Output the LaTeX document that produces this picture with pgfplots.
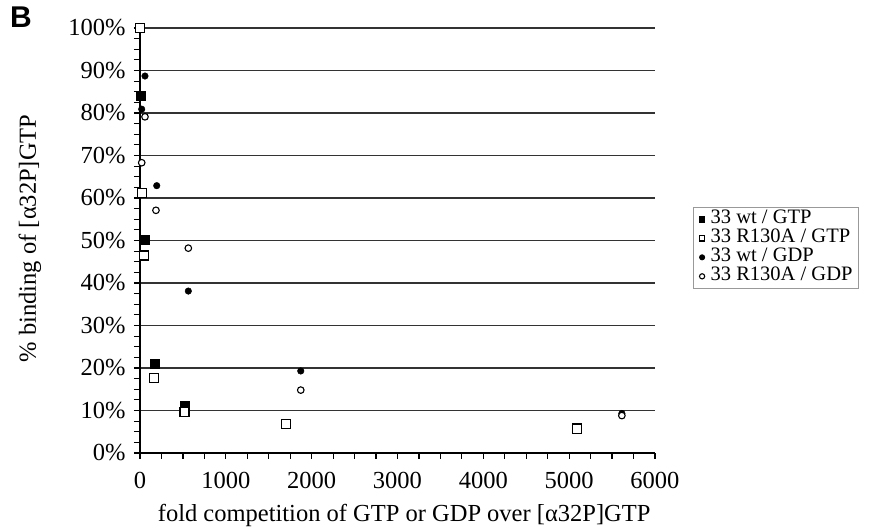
\documentclass[border=0pt]{standalone}
\usepackage{fontspec}
\setmainfont{Liberation Serif}
\newfontfamily\labelsans{Liberation Sans}
\usepackage{pgfplots}
\pgfplotsset{compat=1.18}
\begin{document}
\fontsize{24.5}{28}\selectfont
\begin{tikzpicture}
\path[use as bounding box] (-140pt,-79pt) rectangle (731pt,453pt);
\begin{axis}[
  scale only axis,
  width=515pt, height=425pt,
  xmin=0, xmax=6000, ymin=0, ymax=100,
  axis lines=left,
  axis line style={-, line width=1.6pt},
  xtick={0,1000,...,6000}, ytick={0,10,...,100},
  minor x tick num=3, minor y tick num=3,
  tick align=outside,
  major tick length=6pt, minor tick length=6pt,
  tick style={line width=1.2pt, black},
  ymajorgrids,
  major grid style={line width=1.6pt, black!80},
  /pgf/number format/assume math mode=true,
  /pgf/number format/1000 sep={},
  yticklabel={\pgfmathprintnumber{\tick}\%},
  ticklabel style={font=\fontsize{24.5}{28}\selectfont},
  xticklabel style={yshift=-5pt},
  yticklabel style={xshift=0pt},
  xlabel={fold competition of GTP or GDP over [α32P]GTP},
  ylabel={\% binding of [α32P]GTP},
  label style={font=\fontsize{24.5}{28}\selectfont},
  xlabel style={at={(axis description cs:0.513,-0.146)}, anchor=center},
  ylabel style={at={(axis description cs:-0.2136,0.505)}, anchor=center, rotate=0},
  legend style={at={(axis description cs:1.074,0.579)}, anchor=north west,
    draw=black!40, line width=0.8pt, font=\fontsize{20.5}{22}\selectfont,
    nodes={inner sep=0pt, text height=13pt, text depth=4pt},
    inner xsep=6pt, inner ysep=3.5pt, row sep=2pt, column sep=6pt},
  legend cell align=left,
  legend image post style={mark size=2.6pt},
  legend image code/.code={\draw[#1] plot coordinates {(0.12cm,0cm)};},
  clip=false,
]
\addplot[only marks, mark=square*, mark size=4.5pt, black] coordinates {
  (0,100) (10,84) (50,50.1) (167,20.9) (517,11.1) (1698,7) (5089,6)};
\addlegendentry{33 wt / GTP}
\addplot[only marks, mark=square*, mark size=4.5pt, draw=black, fill=white, line width=1.3pt,
  mark options={solid}] coordinates {
  (0,100) (20,61.1) (50,46.5) (167,17.7) (517,9.6) (1698,6.8) (5089,5.7)};
\addlegendentry{33 R130A / GTP}
\addplot[only marks, mark=*, mark size=3.3pt, black] coordinates {
  (20,80.9) (58,88.7) (195,62.9) (563,38.1) (1873,19.3) (5614,9.3)};
\addlegendentry{33 wt / GDP}
\addplot[only marks, mark=*, mark size=3.3pt, draw=black, fill=white, line width=1.1pt] coordinates {
  (20,68.3) (58,79.1) (186,57.1) (563,48.2) (1873,14.8) (5614,8.8)};
\addlegendentry{33 R130A / GDP}
\end{axis}
\node[anchor=north west, inner sep=0pt, font=\labelsans\bfseries\fontsize{30}{32}\selectfont] at (-130pt,446pt) {B};
\end{tikzpicture}
\end{document}
